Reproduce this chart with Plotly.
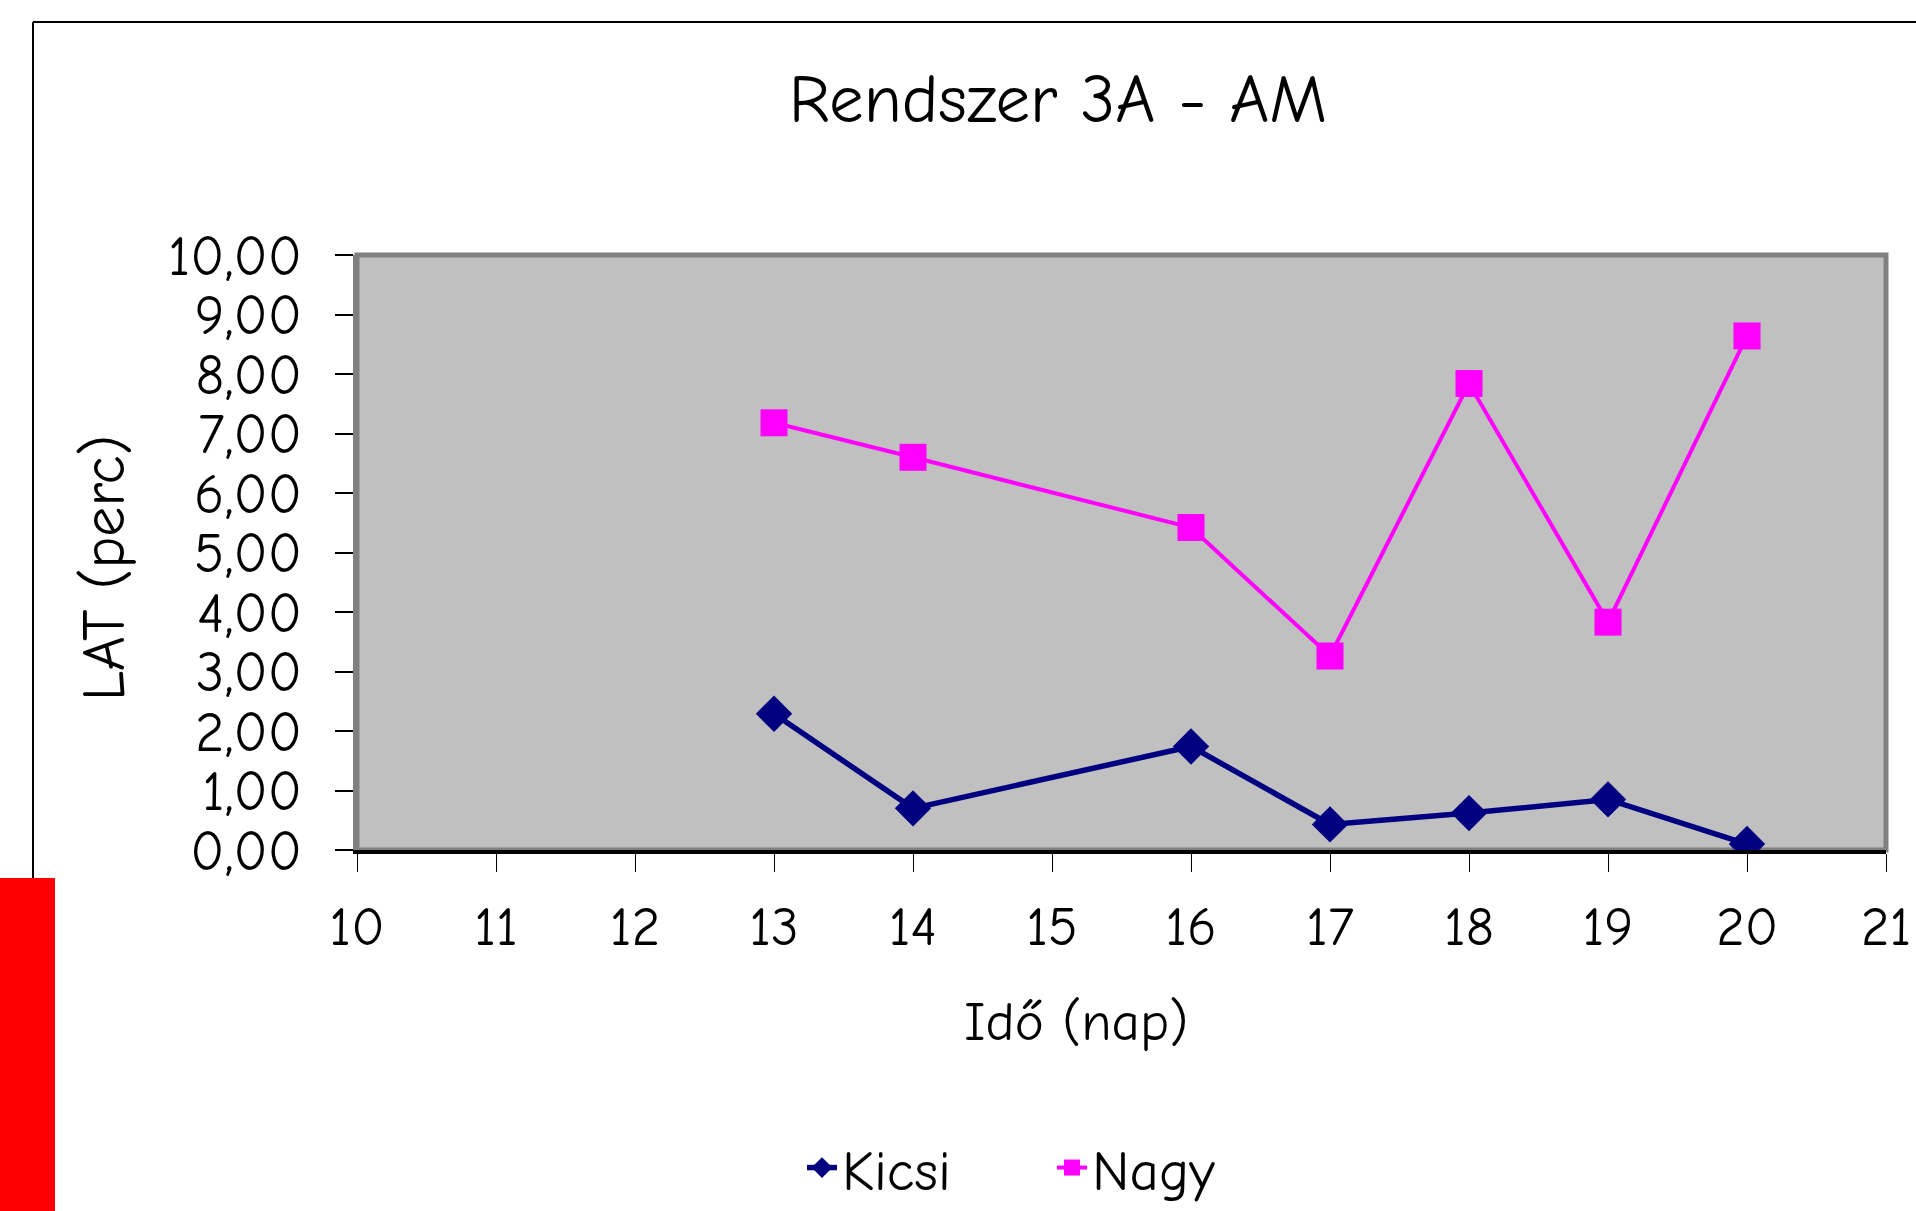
import plotly.graph_objects as go

days = [13, 14, 16, 17, 18, 19, 20]
kicsi = [2.29, 0.70, 1.74, 0.43, 0.62, 0.85, 0.10]
nagy = [7.18, 6.60, 5.42, 3.26, 7.84, 3.83, 8.64]
x_ticks = list(range(10, 22))
y_ticks = list(range(0, 11))

FONT = "Comic Sans MS, Comic Neue, Lato, sans-serif"
W, H = 1916, 1211
L, R, T, B = 357, 1886, 255, 850


def px(xp):
    return (xp - L) / (R - L)


def py(yp):
    return (B - yp) / (B - T)


fig = go.Figure()
fig.add_trace(go.Scatter(
    x=days, y=kicsi, name="Kicsi", mode="lines+markers",
    line=dict(color="#000080", width=5.5),
    marker=dict(symbol="diamond", size=28, color="#000080"),
))
fig.add_trace(go.Scatter(
    x=days, y=nagy, name="Nagy", mode="lines+markers",
    line=dict(color="#FF00FF", width=4),
    marker=dict(symbol="square", size=27, color="#FF00FF"),
))

shapes = [
    # outer chart frame
    dict(type="line", xref="paper", yref="paper", x0=px(33), x1=px(1916), y0=py(22), y1=py(22),
         line=dict(color="black", width=2), layer="above"),
    dict(type="line", xref="paper", yref="paper", x0=px(33), x1=px(33), y0=py(22), y1=py(1211),
         line=dict(color="black", width=2), layer="above"),
    # red block
    dict(type="rect", xref="paper", yref="paper", x0=px(0), x1=px(55), y0=py(878), y1=py(1211),
         fillcolor="#FF0000", line=dict(width=0), layer="above"),
    # plot area border (gray)
    dict(type="rect", xref="paper", yref="paper", x0=0, x1=1, y0=0, y1=1,
         line=dict(color="#808080", width=5), layer="below"),
]

annotations = [
    dict(text="LAT (perc)", xref="paper", yref="paper", x=px(104), y=py(568),
         showarrow=False, textangle=-90, font=dict(family=FONT, size=60, color="black"),
         xanchor="center", yanchor="middle"),
    dict(text="Idő (nap)", xref="paper", yref="paper", x=px(1076), y=py(1022),
         showarrow=False, font=dict(family=FONT, size=55, color="black"),
         xanchor="center", yanchor="middle"),
]

fig.update_layout(
    width=W, height=H, autosize=False,
    margin=dict(l=L, r=W - R, t=T, b=H - B, autoexpand=False),
    paper_bgcolor="white",
    plot_bgcolor="#C0C0C0",
    separators=",.",
    title=dict(text="Rendszer 3A - AM", x=1058 / W, xref="container", xanchor="center",
               y=1 - 98 / H, yref="container", yanchor="middle",
               font=dict(family=FONT, size=69, color="black")),
    font=dict(family=FONT, color="black"),
    showlegend=True,
    legend=dict(orientation="h", x=px(1052), y=py(1168), xanchor="center", yanchor="middle",
                font=dict(family=FONT, size=57, color="black"), bgcolor="rgba(0,0,0,0)",
                entrywidth=205, entrywidthmode="pixels", tracegroupgap=0),
    shapes=shapes,
    annotations=annotations,
)
fig.update_xaxes(
    range=[10, 21], tickvals=x_ticks, ticktext=[str(v) for v in x_ticks],
    showgrid=False, zeroline=False, automargin=False,
    showline=True, linecolor="black", linewidth=4,
    ticks="outside", ticklen=18, tickwidth=1, tickcolor="black",
    ticklabelstandoff=7,
    tickfont=dict(family=FONT, size=55, color="black"),
)
fig.update_yaxes(
    range=[0, 10], tickvals=y_ticks, tickformat=".2f",
    showgrid=False, zeroline=False, automargin=False,
    showline=True, linecolor="#808080", linewidth=4,
    ticks="outside", ticklen=18, tickwidth=2, tickcolor="black",
    ticklabelstandoff=22,
    tickfont=dict(family=FONT, size=56, color="black"),
)

fig.write_html(
    "out.html",
    config={"displayModeBar": False, "responsive": False},
    post_script="document.body.style.margin='0';document.body.style.overflow='hidden';",
)
